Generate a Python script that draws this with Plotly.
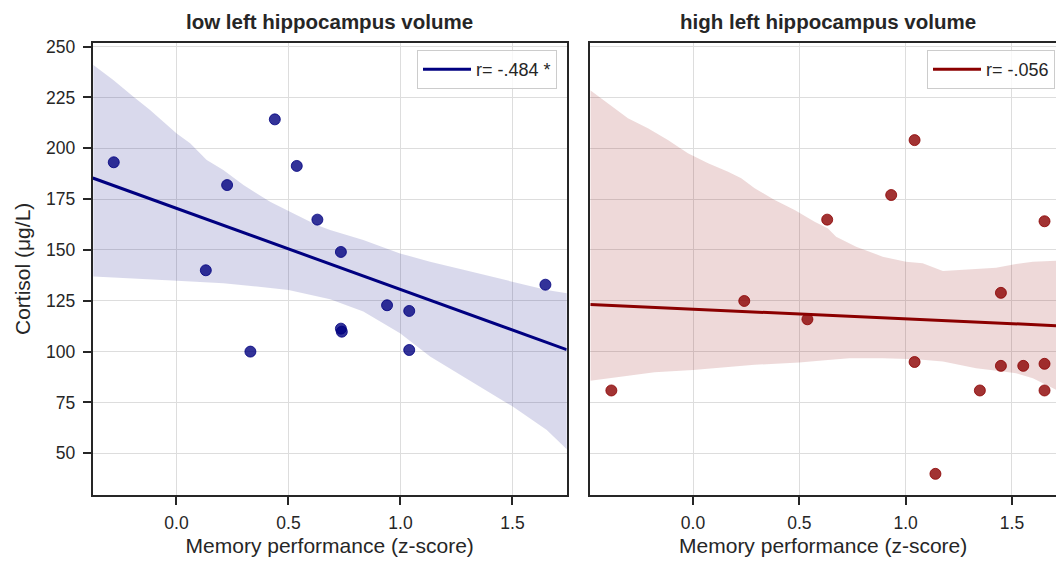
import numpy as np
import plotly.graph_objects as go

# ---- data ----
low_x = [-0.280, 0.439, 0.537, 0.226, 0.629, 0.734, 0.131, 1.647, 0.940, 1.039, 0.734, 0.738, 0.330, 1.039]
low_y = [193.1, 214.2, 191.3, 181.9, 164.9, 149.0, 140.0, 132.9, 122.8, 120.0, 111.3, 109.8, 100.0, 100.8]

high_x = [-0.384, 0.241, 0.538, 0.631, 0.932, 1.042, 1.042, 1.140, 1.349, 1.448, 1.448, 1.553, 1.653, 1.653, 1.653]
high_y = [80.9, 124.9, 115.9, 164.9, 177.0, 204.0, 94.9, 39.9, 80.9, 128.9, 93.0, 93.0, 164.1, 94.0, 80.9]

# 95% bootstrap confidence band edges
low_band_upper_x = [-0.371, -0.282, -0.192, -0.118, 0.001, 0.061, 0.135, 0.209, 0.299, 0.418, 0.507,
                    0.626, 0.686, 0.834, 0.998, 1.132, 1.281, 1.501, 1.653, 1.745]
low_band_upper_y = [240.9, 233.5, 225.3, 218.8, 207.3, 202.4, 194.2, 189.3, 181.9, 173.7, 168.8,
                    162.3, 159.8, 154.9, 148.3, 144.2, 140.2, 134.4, 130.3, 128.7]
low_band_lower_x = [-0.371, -0.237, 0.001, 0.209, 0.358, 0.500, 0.686, 0.834, 0.998, 1.132, 1.281,
                    1.501, 1.653, 1.745]
low_band_lower_y = [136.9, 136.1, 134.9, 133.6, 132.0, 130.3, 125.7, 119.7, 109.0, 97.6, 87.7,
                    73.0, 61.5, 51.7]

high_band_upper_x = [-0.483, -0.400, -0.306, -0.212, -0.118, -0.024, 0.071, 0.165, 0.227, 0.290, 0.384,
                     0.478, 0.572, 0.635, 0.673, 0.767, 0.892, 1.002, 1.080, 1.175, 1.284, 1.425,
                     1.519, 1.598, 1.707]
high_band_upper_y = [228.5, 222.1, 214.7, 209.8, 204.0, 197.5, 192.6, 188.5, 185.2, 180.3, 174.6,
                     169.6, 163.9, 160.6, 156.5, 151.6, 146.7, 144.2, 143.4, 139.7, 140.5, 141.3,
                     143.1, 144.2, 144.7]
high_band_lower_x = [-0.483, -0.337, -0.180, 0.001, 0.133, 0.290, 0.500, 0.635, 0.735, 0.892, 1.049,
                     1.175, 1.331, 1.457, 1.519, 1.598, 1.707]
high_band_lower_y = [85.7, 87.7, 89.9, 91.0, 92.2, 93.5, 94.6, 95.9, 96.7, 96.7, 96.3,
                     95.1, 91.8, 90.2, 89.4, 86.9, 81.2]

panel_titles = ["low left hippocampus volume", "high left hippocampus volume"]
legend_labels = ["r= -.484 *", "r= -.056"]
x_ticks = [0.0, 0.5, 1.0, 1.5]
y_ticks = [50, 75, 100, 125, 150, 175, 200, 225, 250]

x_ranges = [[-0.374, 1.742], [-0.483, 1.707]]
y_range = [29.5, 251.9]

FONT = "Liberation Sans, Arial, sans-serif"
INK = "#262626"

fig = go.Figure()

colors = [(0, 0, 128), (139, 0, 0)]
datasets = [(low_x, low_y), (high_x, high_y)]
bands = [(low_band_upper_x, low_band_upper_y, low_band_lower_x, low_band_lower_y),
         (high_band_upper_x, high_band_upper_y, high_band_lower_x, high_band_lower_y)]
axes = [("x", "y"), ("x2", "y2")]
legends = ["legend", "legend2"]

for i in range(2):
    xs, ys = datasets[i]
    c = colors[i]
    xa, ya = axes[i]
    ux, uy, lx, ly = bands[i]
    rgb = f"rgb({c[0]},{c[1]},{c[2]})"
    # confidence band
    fig.add_trace(go.Scatter(
        x=list(ux) + list(lx)[::-1], y=list(uy) + list(ly)[::-1],
        fill="toself", fillcolor=f"rgba({c[0]},{c[1]},{c[2]},0.15)",
        line=dict(width=0), hoverinfo="skip", showlegend=False,
        xaxis=xa, yaxis=ya))
    # points
    fig.add_trace(go.Scatter(
        x=xs, y=ys, mode="markers",
        marker=dict(size=11, color=f"rgba({c[0]},{c[1]},{c[2]},0.8)",
                    line=dict(width=1, color=f"rgba({c[0]},{c[1]},{c[2]},0.8)")),
        showlegend=False, xaxis=xa, yaxis=ya))
    # regression line (least squares on the points, drawn across the axis)
    slope, intercept = np.polyfit(np.asarray(xs, float), np.asarray(ys, float), 1)
    gx = np.array(x_ranges[i])
    fig.add_trace(go.Scatter(
        x=gx, y=slope * gx + intercept, mode="lines", line=dict(color=rgb, width=3),
        name=legend_labels[i], showlegend=True, legend=legends[i],
        xaxis=xa, yaxis=ya))

W, H = 1056, 561
dom_y = [(H - 495) / H, (H - 42.7) / H]
dom_x1 = [92.7 / W, 566.7 / W]
dom_x2 = [590.3 / W, 1.0]

tick_font = dict(family=FONT, size=17.5, color=INK)
label_font = dict(family=FONT, size=21, color=INK)

common_x = dict(tickvals=x_ticks, ticktext=[f"{v:.1f}" for v in x_ticks],
                showgrid=True, gridcolor="#dddddd", gridwidth=1,
                zeroline=False, showline=True, linecolor=INK, linewidth=2,
                ticks="outside", ticklen=8, tickwidth=1.5, tickcolor=INK,
                tickfont=tick_font, automargin=False, ticklabelstandoff=3,
                title=dict(text="Memory performance (z-score)", font=label_font, standoff=6))

legend_common = dict(xanchor="right", yanchor="top", itemwidth=48,
                     bgcolor="rgba(255,255,255,0.8)", bordercolor="#cccccc", borderwidth=1,
                     font=dict(family=FONT, size=18, color=INK))

fig.update_layout(
    width=W, height=H,
    margin=dict(l=0, r=0, t=0, b=0),
    paper_bgcolor="white", plot_bgcolor="white",
    showlegend=True,
    xaxis=dict(domain=dom_x1, range=x_ranges[0], anchor="y", mirror=True, **common_x),
    xaxis2=dict(domain=dom_x2, range=x_ranges[1], anchor="y2", mirror=True, **common_x),
    yaxis=dict(domain=dom_y, range=y_range, anchor="x", tickvals=y_ticks,
               showgrid=True, gridcolor="#dddddd", zeroline=False,
               showline=True, mirror=True, linecolor=INK, linewidth=2,
               ticks="outside", ticklen=8, tickwidth=1.5, tickcolor=INK,
               tickfont=tick_font, automargin=False, ticklabelstandoff=4,
               title=dict(text="Cortisol (μg/L)", font=label_font, standoff=10)),
    yaxis2=dict(domain=dom_y, range=y_range, anchor="x2", tickvals=y_ticks,
                showticklabels=False, showgrid=True, gridcolor="#dddddd", zeroline=False,
                showline=True, mirror=False, linecolor=INK, linewidth=2,
                ticks="", automargin=False),
    legend=dict(x=557 / W, y=(H - 50) / H, **legend_common),
    legend2=dict(x=1055 / W, y=(H - 50) / H, **legend_common),
)

title_font = dict(family=FONT, size=20.5, color=INK)
for txt, cx in zip(panel_titles, [329.7, 828.0]):
    fig.add_annotation(text=f"<b>{txt}</b>", x=cx / W, y=(H - 22) / H,
                       xref="paper", yref="paper", showarrow=False,
                       xanchor="center", yanchor="middle", font=title_font)

fig.write_html("out.html")
